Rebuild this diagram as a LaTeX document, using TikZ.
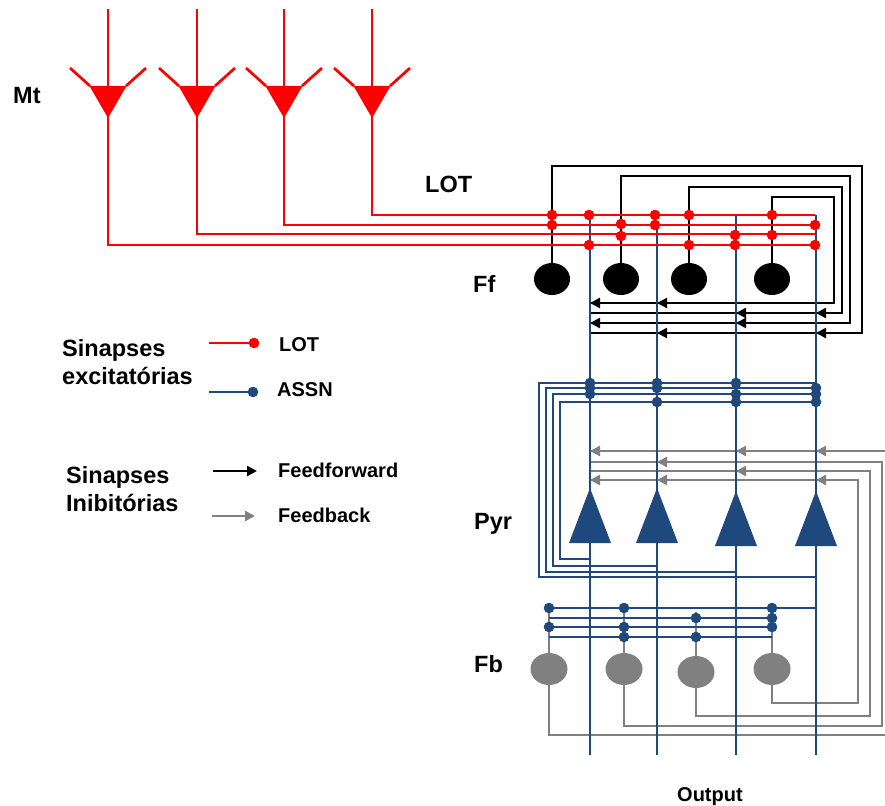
\documentclass[tikz,border=0pt]{standalone}
\usepackage{fontspec}
\setmainfont{Liberation Sans}
\usetikzlibrary{arrows.meta,shapes.geometric}
\definecolor{lotred}{RGB}{255,0,0}
\definecolor{assn}{RGB}{31,73,125}
\definecolor{fbgray}{RGB}{128,128,128}
% inhibitory arrowhead ending on a column line
\newcommand\inhib[3]{\draw[#1,-{Triangle[length=10pt,width=10pt]}] ({#2+17},#3) -- (#2,#3);}
\newcommand\syndot[3]{\fill[#1] (#2,#3) circle (5.3pt);}
\begin{document}
\begin{tikzpicture}[x=1pt,y=-1pt,
  wire/.style={line width=2.7pt},
  lotw/.style={wire,draw=lotred},
  assnw/.style={wire,draw=assn},
  ffw/.style={wire,draw=black},
  fbw/.style={wire,draw=fbgray},
  ffcell/.style={ellipse,fill=black,minimum width=36pt,minimum height=32pt,inner sep=0pt},
  fbcell/.style={ellipse,fill=fbgray,minimum width=37pt,minimum height=32pt,inner sep=0pt},
  big/.style={inner sep=0pt,anchor=base west,font=\fontsize{23.5}{28}\selectfont\bfseries},
  small/.style={inner sep=0pt,anchor=base west,font=\fontsize{20}{24}\selectfont\bfseries}]
\useasboundingbox (0,0) rectangle (885,805);
\clip (0,0) rectangle (885,805);
% column (pyramidal axon) x positions
\def\ca{590}\def\cb{657}\def\cc{736}\def\cd{816}

% ---------- cells ----------
\node[ffcell] (ff1) at (552,279) {};
\node[ffcell] (ff2) at (621,279) {};
\node[ffcell] (ff3) at (689,279) {};
\node[ffcell] (ff4) at (772,279) {};
\node[fbcell] (fb1) at (549,669) {};
\node[fbcell] (fb2) at (624,669) {};
\node[fbcell] (fb3) at (696,672) {};
\node[fbcell] (fb4) at (772,669) {};

% ---------- feedback (Fb) loops ----------
\draw[fbw] (fb1.south) -- (549,735) -| (890,451) -- (\ca,451);
\draw[fbw] (fb2.south) -- (624,726) -| (882,462) -- (\ca,462);
\draw[fbw] (fb3.south) -- (696,716) -| (870,471) -- (\ca,471);
\draw[fbw] (fb4.south) -- (772,703) -| (858,480) -- (\ca,480);
% Fb dendrites
\draw[fbw] (549,608) -- (fb1.north);
\draw[fbw] (624,608) -- (fb2.north);
\draw[fbw] (696,612) -- (fb3.north);
\draw[fbw] (772,608) -- (fb4.north);

% ---------- feedforward (Ff) loops ----------
\draw[ffw] (ff1.north) -- (552,166) -| (862,333) -- (\ca,333);
\draw[ffw] (ff2.north) -- (621,176) -| (850,323) -- (\ca,323);
\draw[ffw] (ff3.north) -- (689,187) -| (842,313) -- (\ca,313);
\draw[ffw] (ff4.north) -- (772,197) -| (834,303) -- (\ca,303);

% ---------- associational (ASSN) loops ----------
\draw[assnw] (\ca,559) -- (560,559) -- (560,402) -- (\cd,402);
\draw[assnw] (\cb,566) -- (553,566) -- (553,394) -- (\cd,394);
\draw[assnw] (\cc,572) -- (546,572) -- (546,388) -- (\cd,388);
\draw[assnw] (\cd,577) -- (539,577) -- (539,383) -- (\cd,383);
% inputs to Fb cells
\draw[assnw] (549,608) -- (\cd,608);
\draw[assnw] (549,618) -- (772,618);
\draw[assnw] (549,627) -- (772,627);
\draw[assnw] (549,637) -- (772,637);

% ---------- pyramidal columns ----------
\draw[assnw] (\ca,215) -- (\ca,755);
\draw[assnw] (\cb,226) -- (\cb,755);
\draw[assnw] (\cc,215) -- (\cc,755);
\draw[assnw] (\cd,215) -- (\cd,755);
\fill[assn] (\ca-21,543) -- (\ca+21,543) -- (\ca,488) -- cycle;
\fill[assn] (\cb-21,543) -- (\cb+21,543) -- (\cb,488) -- cycle;
\fill[assn] (\cc-21,546) -- (\cc+21,546) -- (\cc,491) -- cycle;
\fill[assn] (\cd-21,546) -- (\cd+21,546) -- (\cd,491) -- cycle;

% ---------- mitral cells and LOT ----------
\foreach \mx/\ly in {108/245,197/234,284/225,372/215}{
  \draw[lotw] (\mx,9) -- (\mx,\ly) -- (815,\ly);
  \fill[lotred] (\mx-18.5,86) -- (\mx+18.5,86) -- (\mx,118) -- cycle;
  \draw[lotw] (\mx-38,68) -- (\mx-18,86);
  \draw[lotw] (\mx+38,68) -- (\mx+18,86);
}

% ---------- inhibitory arrowheads ----------
\inhib{ffw}{\ca}{303}\inhib{ffw}{\cb}{303}
\inhib{ffw}{\cc}{313}\inhib{ffw}{\cd}{313}
\inhib{ffw}{\ca}{323}\inhib{ffw}{\cc}{323}
\inhib{ffw}{\cb}{333}\inhib{ffw}{\cd}{333}
\inhib{fbw}{\ca}{451}\inhib{fbw}{\cc}{451}\inhib{fbw}{\cd}{451}
\inhib{fbw}{\cb}{462}
\inhib{fbw}{\cc}{471}
\inhib{fbw}{\ca}{480}\inhib{fbw}{\cb}{480}\inhib{fbw}{\cd}{480}

% ---------- excitatory synapses ----------
% LOT onto Ff cells and pyramidal columns
\syndot{lotred}{552}{215}\syndot{lotred}{552}{225}
\syndot{lotred}{589}{215}\syndot{lotred}{589}{245}
\syndot{lotred}{621}{224}\syndot{lotred}{621}{236}
\syndot{lotred}{655}{215}\syndot{lotred}{655}{225}
\syndot{lotred}{689}{215}\syndot{lotred}{689}{245}
\syndot{lotred}{735}{235}\syndot{lotred}{735}{245}
\syndot{lotred}{772}{215}\syndot{lotred}{772}{235}
\syndot{lotred}{815}{225}\syndot{lotred}{815}{245}
% ASSN onto pyramidal columns
\syndot{assn}{\ca}{383}\syndot{assn}{\ca}{388}\syndot{assn}{\ca}{394}
\syndot{assn}{\cb}{383}\syndot{assn}{\cb}{388}\syndot{assn}{\cb}{402}
\syndot{assn}{\cc}{383}\syndot{assn}{\cc}{394}\syndot{assn}{\cc}{402}
\syndot{assn}{\cd}{388}\syndot{assn}{\cd}{394}\syndot{assn}{\cd}{402}
% ASSN onto Fb cells
\syndot{assn}{549}{608}\syndot{assn}{549}{627}
\syndot{assn}{624}{608}\syndot{assn}{624}{627}\syndot{assn}{624}{637}
\syndot{assn}{696}{618}\syndot{assn}{696}{637}
\syndot{assn}{772}{608}\syndot{assn}{772}{618}\syndot{assn}{772}{627}

% ---------- labels ----------
\node[big] (mt) at (13,104) {Mt};
\node[big] (lotlabel) at (425,193) {LOT};
\node[big] (fflabel) at (473,292) {Ff};
\node[big] (pyrlabel) at (474,529) {Pyr};
\node[big] (fblabel) at (474,672) {Fb};
\node[small] (output) at (677,801) {Output};

% ---------- legend ----------
\node[big] (exc1) at (62,356) {Sinapses};
\node[big] (exc2) at (62,384) {excitatórias};
\node[big] (inh1) at (66,483) {Sinapses};
\node[big] (inh2) at (66,511) {Inibitórias};
\coordinate (lg1a) at (209,343); \coordinate (lg1b) at (254,343);
\coordinate (lg2a) at (209,392); \coordinate (lg2b) at (253,392);
\coordinate (lg3a) at (213,471); \coordinate (lg3b) at (257,471);
\coordinate (lg4a) at (212,516); \coordinate (lg4b) at (255,516);
\draw[lotw] (lg1a) -- (lg1b); \fill[lotred] (lg1b) circle (5.3pt);
\draw[assnw] (lg2a) -- (lg2b); \fill[assn] (lg2b) circle (5.3pt);
\draw[ffw,-{Triangle[length=10pt,width=10pt]}] (lg3a) -- (lg3b);
\draw[fbw,-{Triangle[length=10pt,width=10pt]}] (lg4a) -- (lg4b);
\node[small] (lglot) at (279,351) {LOT};
\node[small] (lgassn) at (277,396) {ASSN};
\node[small] (lgff) at (278,477) {Feedforward};
\node[small] (lgfb) at (278,522) {Feedback};
\end{tikzpicture}
\end{document}
